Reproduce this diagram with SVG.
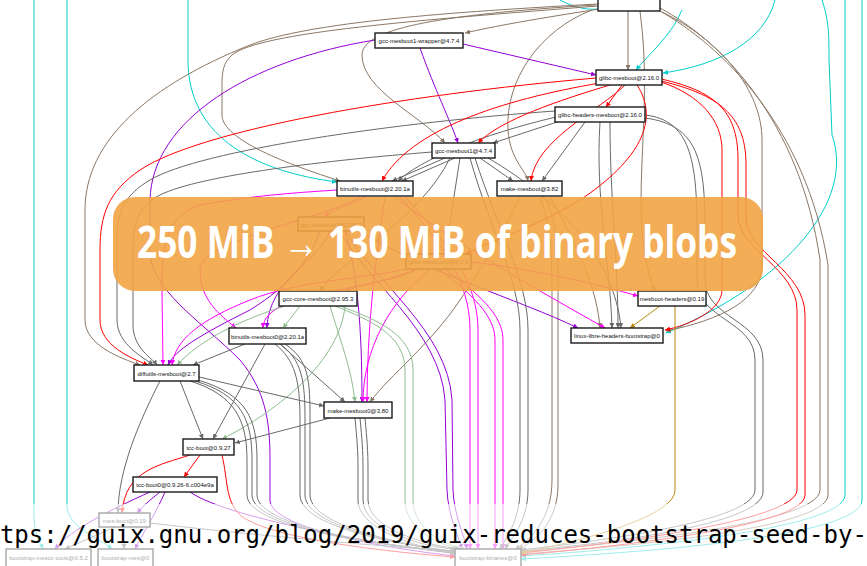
<svg xmlns="http://www.w3.org/2000/svg" width="867" height="566" viewBox="0 0 867 566">
<defs>
<style>
.e{fill:none;stroke-width:1}
.r{stroke:#ff0000}.mg{stroke:#ff00ff}.cy{stroke:#00cdcd}.gr{stroke:#8fbc8f}.br{stroke:#8b7765}.vi{stroke:#9400d3}.dg{stroke:#696969}.go{stroke:#b8860b}
.nb{fill:#fff;stroke:#1a1a1a;stroke-width:1.4}
.nt{font-family:"Liberation Sans",Arial,sans-serif;font-size:6px;fill:#111;text-anchor:middle}
</style>
<marker id="ar" viewBox="0 0 10 10" refX="10" refY="5" markerWidth="5" markerHeight="5" markerUnits="userSpaceOnUse" orient="auto"><path d="M0,0L10,5L0,10z" fill="#ff0000"/></marker>
<marker id="amg" viewBox="0 0 10 10" refX="10" refY="5" markerWidth="5" markerHeight="5" markerUnits="userSpaceOnUse" orient="auto"><path d="M0,0L10,5L0,10z" fill="#ff00ff"/></marker>
<marker id="acy" viewBox="0 0 10 10" refX="10" refY="5" markerWidth="5" markerHeight="5" markerUnits="userSpaceOnUse" orient="auto"><path d="M0,0L10,5L0,10z" fill="#00cdcd"/></marker>
<marker id="agr" viewBox="0 0 10 10" refX="10" refY="5" markerWidth="5" markerHeight="5" markerUnits="userSpaceOnUse" orient="auto"><path d="M0,0L10,5L0,10z" fill="#8fbc8f"/></marker>
<marker id="abr" viewBox="0 0 10 10" refX="10" refY="5" markerWidth="5" markerHeight="5" markerUnits="userSpaceOnUse" orient="auto"><path d="M0,0L10,5L0,10z" fill="#8b7765"/></marker>
<marker id="avi" viewBox="0 0 10 10" refX="10" refY="5" markerWidth="5" markerHeight="5" markerUnits="userSpaceOnUse" orient="auto"><path d="M0,0L10,5L0,10z" fill="#9400d3"/></marker>
<marker id="adg" viewBox="0 0 10 10" refX="10" refY="5" markerWidth="5" markerHeight="5" markerUnits="userSpaceOnUse" orient="auto"><path d="M0,0L10,5L0,10z" fill="#696969"/></marker>
<marker id="ago" viewBox="0 0 10 10" refX="10" refY="5" markerWidth="5" markerHeight="5" markerUnits="userSpaceOnUse" orient="auto"><path d="M0,0L10,5L0,10z" fill="#b8860b"/></marker>
</defs>
<rect width="867" height="566" fill="#fff"/>
<g id="connectors">
<g class="e cy" marker-end="url(#acy)">
<path d="M34,0 L34,515 C34,535 40,542 43,549"/>
<path d="M67,0 L67,505 C67,528 100,538 112,549"/>
<path d="M188,0 L188,60 C188,140 260,172 337,182"/>
<path d="M682,10 C672,35 648,55 636,70"/>
<path d="M775,0 C765,40 720,65 663,73"/>
<path d="M822,0 C829,20 829,35 829,60 L832,135 C855,200 790,280 666,333"/>
<path d="M845,0 L845,495 C845,530 620,550 521,556"/>
<path d="M862,0 L862,500 C862,538 630,553 521,559"/>
</g>
<path class="e cy" d="M560,0 C575,8 588,10 598,9"/>
<g class="e br" marker-end="url(#abr)">
<path d="M600,9 C540,18 490,27 465,33"/>
<path d="M628,11 L628,70"/>
<path d="M598,4 C450,12 310,22 250,45 C150,85 85,140 85,210 L85,320 C85,345 120,358 140,365"/>
<path d="M598,6 C420,20 260,32 232,55 C223,63 222,72 222,85 L222,115 C222,140 290,165 340,181"/>
<path d="M592,10 C540,30 505,80 508,130 C510,160 526,170 528,181"/>
<path d="M596,5 C430,15 362,30 362,55 C362,90 420,115 445,143"/>
<path d="M660,8 C720,40 800,120 820,260 L820,490 C820,525 600,545 521,552"/>
<path d="M660,11 C720,45 806,125 828,265 L828,495 C828,530 610,548 521,554"/>
<path d="M662,12 C720,40 762,90 762,140 L762,265 C762,300 720,320 666,331"/>
<path d="M640,11 C655,120 625,220 655,291"/>
<path d="M520,197 C500,240 480,270 460,300 C430,345 390,375 370,402"/>
<path d="M550,197 C580,250 597,290 600,328"/>
<path d="M540,197 C552,230 552,260 552,300 L552,480 C552,520 530,540 515,549"/>
<path d="M545,197 C560,230 558,260 558,300 L558,485 C558,522 535,542 518,549"/>
</g>
<g class="e vi" marker-end="url(#avi)">
<path d="M463,44 L596,75"/>
<path d="M420,48 C435,90 450,120 458,143"/>
<path d="M375,40 C250,60 152,120 150,200 L150,250 C150,290 200,320 240,360 C265,390 270,420 270,460 L270,500 C270,530 400,550 455,556"/>
<path d="M320,231 C310,260 290,285 250,310 C200,335 175,350 168,365"/>
<path d="M330,231 C320,260 268,280 267,328"/>
<path d="M345,231 C360,280 362,350 362,402"/>
<path d="M360,231 C420,270 520,300 578,328"/>
<path d="M340,231 C365,280 440,330 445,400 L447,490 C448,515 458,535 462,549"/>
<path d="M346,231 C372,280 448,330 452,400 L453,490 C454,515 464,535 467,549"/>
<path d="M150,492 C110,510 70,530 55,549"/>
<path d="M165,492 C155,515 142,535 135,549"/>
<path d="M160,492 C150,500 143,506 137,513"/>
<path d="M190,492 C230,520 400,548 455,553"/>
</g>
<g class="e mg" marker-end="url(#amg)">
<path d="M337,190 C290,193 250,196 200,205 C165,215 162,250 162,290 L163,365"/>
<path d="M360,197 C320,220 200,240 200,270 C200,300 220,315 236,328"/>
<path d="M365,197 C350,205 330,210 325,217"/>
<path d="M385,197 C375,260 367,330 367,402"/>
<path d="M395,197 C450,240 520,280 605,328"/>
<path d="M400,197 C440,240 470,280 470,330 L470,549"/>
<path d="M405,197 C445,240 478,280 478,330 L478,549"/>
<path d="M415,270 C390,280 360,285 345,291"/>
<path d="M410,268 C360,280 300,280 250,300 C200,320 175,340 172,365"/>
<path d="M415,270 C380,290 264,290 263,328"/>
<path d="M430,270 C390,300 363,350 363,402"/>
<path d="M471,262 C540,270 600,285 638,296"/>
<path d="M440,270 C480,300 495,320 495,340 L495,549"/>
<path d="M446,270 C488,300 503,320 503,340 L503,549"/>
</g>
<g class="e gr" marker-end="url(#agr)">
<path d="M300,306 L283,328"/>
<path d="M285,306 C240,320 200,340 177,365"/>
<path d="M330,306 C340,340 352,370 355,402"/>
<path d="M345,306 C340,360 280,410 222,439"/>
<path d="M335,306 C370,320 405,335 405,370 L405,500 C405,530 440,545 460,549"/>
<path d="M340,306 C378,320 413,335 413,370 L413,500 C413,530 445,545 465,549"/>
</g>
<g class="e dg" marker-end="url(#adg)">
<path d="M560,121 L493,143"/>
<path d="M556,117 C480,135 420,160 398,181"/>
<path d="M585,122 L542,181"/>
<path d="M555,111 C400,122 200,150 150,180 C125,195 117,210 117,240 L117,320 C117,345 145,358 153,365"/>
<path d="M600,122 C595,200 610,260 612,328"/>
<path d="M610,122 C610,200 618,260 618,328"/>
<path d="M645,115 C690,120 697,160 697,230 L697,280 C697,320 755,320 755,360 L755,490 C755,525 560,545 521,550"/>
<path d="M645,118 C698,125 705,160 705,230 L705,280 C705,318 763,320 763,360 L763,492 C763,528 570,547 521,551"/>
<path d="M445,158 L392,181"/>
<path d="M455,158 L402,181"/>
<path d="M480,158 L513,181"/>
<path d="M432,152 C330,160 200,175 160,195 C140,205 133,220 133,250 L133,325 C133,348 152,358 157,365"/>
<path d="M488,158 C560,200 615,260 621,328"/>
<path d="M470,158 C490,230 520,280 520,330 L520,490 C520,520 505,540 500,549"/>
<path d="M475,158 C498,230 528,280 528,330 L528,490 C528,522 510,540 505,549"/>
<path d="M450,158 C420,220 340,260 320,291"/>
<path d="M460,158 L445,254"/>
<path d="M245,344 L193,365"/>
<path d="M265,344 L213,439"/>
<path d="M280,344 L345,402"/>
<path d="M275,344 C295,360 300,380 300,420 L300,495 C300,530 420,548 455,551"/>
<path d="M280,344 C302,360 305,380 305,420 L305,495 C305,530 425,548 455,552"/>
<path d="M285,344 C309,360 310,380 310,420 L310,495 C310,530 430,548 455,553"/>
<path d="M180,381 L203,439"/>
<path d="M199,377 L324,406"/>
<path d="M160,381 C140,420 118,470 118,513"/>
<path d="M190,381 C235,395 247,420 247,460 L247,495 C247,530 400,548 455,551"/>
<path d="M195,381 C242,395 252,420 252,460 L252,495 C252,530 405,548 455,552"/>
<path d="M198,380 C248,395 257,420 257,460 L257,495 C257,530 410,548 455,553"/>
<path d="M330,418 L235,443"/>
<path d="M355,418 C357,440 358,450 358,470 L358,500 C358,530 420,548 455,554"/>
<path d="M360,418 C362,440 363,450 363,470 L363,500 C363,530 425,548 457,549"/>
<path d="M365,418 C367,440 368,450 368,470 L368,500 C368,530 430,546 460,549"/>
<path d="M115,527 L65,549"/>
<path d="M124,527 L124,549"/>
<path d="M150,523 C250,535 400,548 455,551"/>
</g>
<g class="e r" marker-end="url(#ar)">
<path d="M622,85 L606,107"/>
<path d="M610,85 C560,100 500,120 478,143"/>
<path d="M625,85 C600,110 535,140 531,181"/>
<path d="M600,83 C500,100 410,130 382,181"/>
<path d="M596,78 C400,95 200,130 140,170 C108,192 100,215 100,250 L100,320 C100,345 130,358 148,365"/>
<path d="M637,85 C660,120 640,160 580,200 C530,230 480,245 466,254"/>
<path d="M661,82 C700,95 722,120 722,150 L722,290 C722,310 690,325 665,330"/>
<path d="M661,79 C720,92 738,115 738,160 L738,215 C738,250 797,268 797,310 L797,490 C797,522 600,545 521,553"/>
<path d="M661,81 C725,96 746,120 746,165 L746,218 C746,252 805,270 805,315 L805,495 C805,527 610,547 521,555"/>
<path d="M200,455 L184,477"/>
<path d="M190,455 C160,465 125,470 122,513"/>
<path d="M222,455 C228,480 225,500 240,515 C270,540 400,553 455,557"/>
</g>
<g class="e go" marker-end="url(#ago)">
<path d="M660,306 L630,328"/>
<path d="M675,306 L675,490 C675,520 560,545 521,553"/>
</g>
</g>
<g id="n-top"><rect class="nb" x="598" y="-6" width="62" height="17"/></g>
<g id="n-w"><rect class="nb" x="375" y="33" width="88" height="15"/><text class="nt" x="419" y="43">gcc-mesboot1-wrapper@4.7.4</text></g>
<g id="n-g"><rect class="nb" x="596" y="70" width="66" height="15"/><text class="nt" x="629" y="80">glibc-mesboot@2.16.0</text></g>
<g id="n-gh"><rect class="nb" x="555" y="107" width="90" height="15"/><text class="nt" x="600" y="117">glibc-headers-mesboot@2.16.0</text></g>
<g id="n-gc1"><rect class="nb" x="432" y="143" width="63" height="15"/><text class="nt" x="463.5" y="153">gcc-mesboot1@4.7.4</text></g>
<g id="n-b"><rect class="nb" x="337" y="181" width="76" height="15"/><text class="nt" x="375" y="191">binutils-mesboot@2.20.1a</text></g>
<g id="n-m"><rect class="nb" x="497" y="181" width="65" height="15"/><text class="nt" x="529.5" y="191">make-mesboot@3.82</text></g>
<g id="n-gc0"><rect class="nb" x="298" y="217" width="66" height="14"/><text class="nt" x="331" y="226.5">gcc-mesboot0@2.95.3</text></g>
<g id="n-gl0"><rect class="nb" x="406" y="254" width="65" height="15"/><text class="nt" x="438.5" y="264">glibc-mesboot0@2.2.5</text></g>
<g id="n-gcc"><rect class="nb" x="279" y="291" width="78" height="15"/><text class="nt" x="318" y="301">gcc-core-mesboot@2.95.3</text></g>
<g id="n-mh"><rect class="nb" x="638" y="291" width="68" height="15"/><text class="nt" x="672" y="301">mesboot-headers@0.19</text></g>
<g id="n-b0"><rect class="nb" x="229" y="328" width="77" height="16"/><text class="nt" x="267.5" y="338.5">binutils-mesboot0@2.20.1a</text></g>
<g id="n-l"><rect class="nb" x="571" y="328" width="92" height="15"/><text class="nt" x="617" y="338">linux-libre-headers-bootstrap@0</text></g>
<g id="n-d"><rect class="nb" x="134" y="365" width="65" height="16"/><text class="nt" x="166.5" y="375.5">diffutils-mesboot@2.7</text></g>
<g id="n-m0"><rect class="nb" x="324" y="402" width="68" height="16"/><text class="nt" x="358" y="412.5">make-mesboot0@3.80</text></g>
<g id="n-t"><rect class="nb" x="183" y="439" width="51" height="16"/><text class="nt" x="208.5" y="449.5">tcc-boot@0.9.27</text></g>
<g id="n-t0"><rect class="nb" x="133" y="477" width="84" height="15"/><text class="nt" x="175" y="487">tcc-boot0@0.9.26-6.c004e9a</text></g>
<g id="n-mb"><rect class="nb" x="99" y="513" width="51" height="14"/><text class="nt" x="124.5" y="522.5">mes-boot@0.19</text></g>
<g id="n-bmt"><rect class="nb" x="6" y="549" width="85" height="20"/><text class="nt" x="48.5" y="560">bootstrap-mescc-tools@0.5.2</text></g>
<g id="n-bm"><rect class="nb" x="98" y="549" width="55" height="20"/><text class="nt" x="125.5" y="560">bootstrap-mes@0</text></g>
<g id="n-bb"><rect class="nb" x="455" y="549" width="66" height="20"/><text class="nt" x="488" y="560">bootstrap-binaries@0</text></g>
<g id="banner">
<rect x="113" y="197" width="650" height="94" rx="22" fill="#f1a444" opacity="0.9"/>
<text x="137" y="258" font-family="'Open Sans','Noto Sans',sans-serif" font-weight="700" font-size="44" fill="#fff" textLength="600" lengthAdjust="spacingAndGlyphs">250 MiB → 130 MiB of binary blobs</text>
</g>
<rect x="0" y="504" width="867" height="62" fill="#fff" opacity="0.62"/>
<text x="-29" y="543" font-family="'DejaVu Sans Mono','Liberation Mono',monospace" font-size="24" fill="#000">https://guix.gnu.org/blog/2019/guix-reduces-bootstrap-seed-by-</text>
</svg>
